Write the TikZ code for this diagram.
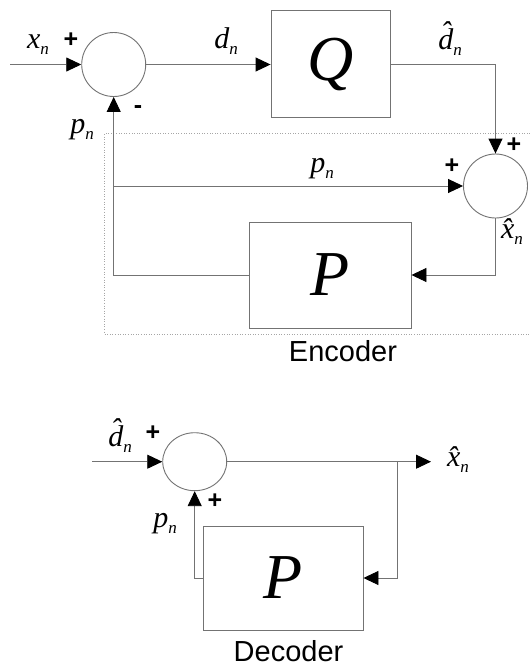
\documentclass[tikz,border=0pt]{standalone}
\usepackage{fontspec}
\setmainfont{Liberation Serif}
\newfontfamily\arialf{Liberation Sans}
\usetikzlibrary{arrows.meta,shapes.geometric}
\newcommand\sbn{\raisebox{-6pt}{\fontsize{17}{17}\selectfont\itshape n}}
\begin{document}
\begin{tikzpicture}[x=1pt,y=-1pt,
  line/.style={draw=black!55, line width=0.9pt},
  arr/.style={line, -{Triangle[length=15pt,width=14pt,black]}},
  sumc/.style={ellipse, draw=black!55, line width=0.9pt, minimum width=64pt, minimum height=64pt, inner sep=0pt},
  blk/.style={rectangle, draw=black!55, line width=0.9pt, inner sep=0pt},
  lbl/.style={font=\fontsize{30}{30}\selectfont\itshape, inner sep=0pt, anchor=base},
  sgn/.style={font=\arialf\bfseries\fontsize{25}{25}\selectfont, inner sep=0pt},
  captxt/.style={font=\arialf\fontsize{29}{29}\selectfont, inner sep=0pt, anchor=base},
  big/.style={font=\fontsize{64}{64}\selectfont\itshape}]
\useasboundingbox (0,0) rectangle (530,667);
\fill[white] (0,0) rectangle (530,667);

% ---------------- Encoder ----------------
\draw[black!35, dotted, line width=0.6pt] (530,133) -- (104.5,133) -- (104.5,334) -- (530,334);

\node[sumc] (s1) at (113.7,64.5) {};
\node[blk, minimum width=119pt, minimum height=107pt, big] (Q) at (330.5,64.3) {Q};
\node[sumc] (s2) at (495.5,186) {};
\node[blk, minimum width=162pt, minimum height=106pt, big] (P1) at (330,275) {P};
\coordinate (xin) at (10,64.5);
\coordinate (j1) at (s1.south |- s2.west);

\draw[arr] (xin) -- (s1.west);
\draw[arr] (s1.east) -- (s1.east -| Q.west);
\draw[arr] (Q.east) -| (s2.north);
\draw[arr] (j1) -- (s2.west);
\draw[arr] (s2.south) |- (P1.east);
\draw[arr] (P1.west) -| (s1.south);

\node[lbl] (lx) at (38,48) {x\sbn};
\node[sgn] (pl1) at (71,40) {+};
\node[lbl] (lp1) at (82,133) {p\sbn};
\node[sgn] (mi1) at (138,110) {-};
\node[lbl] (ld) at (226,48) {d\sbn};
\node[lbl] (ldh) at (450,49) {d\char"0302\sbn};
\node[sgn] (pl2) at (514,145) {+};
\node[sgn] (pl3) at (452,166) {+};
\node[lbl] (lp2) at (322,172) {p\sbn};
\node[lbl] (lxh) at (512,238) {x\char"0302\sbn};
\node[captxt] (enc) at (343,361) {Encoder};

% ---------------- Decoder ----------------
\node[sumc, minimum height=58pt] (s3) at (194.7,461.7) {};
\node[blk, minimum width=160pt, minimum height=104pt, big] (P2) at (283,578) {P};
\coordinate (din) at (92,461.7);
\coordinate (xout) at (431,461.7);
\coordinate (br) at (397,461.7);

\draw[arr] (din) -- (s3.west);
\draw[arr] (s3.east) -- (xout);
\draw[arr] (br) |- (P2.east);
\draw[arr] (P2.west) -| (s3.south);

\node[lbl] (ldh2) at (120,446) {d\char"0302\sbn};
\node[sgn] (pl4) at (153,433) {+};
\node[sgn] (pl5) at (215,501) {+};
\node[lbl] (lp3) at (165,527) {p\sbn};
\node[lbl] (lxh2) at (458,466) {x\char"0302\sbn};
\node[captxt] (dec) at (288.5,661) {Decoder};
\end{tikzpicture}
\end{document}
